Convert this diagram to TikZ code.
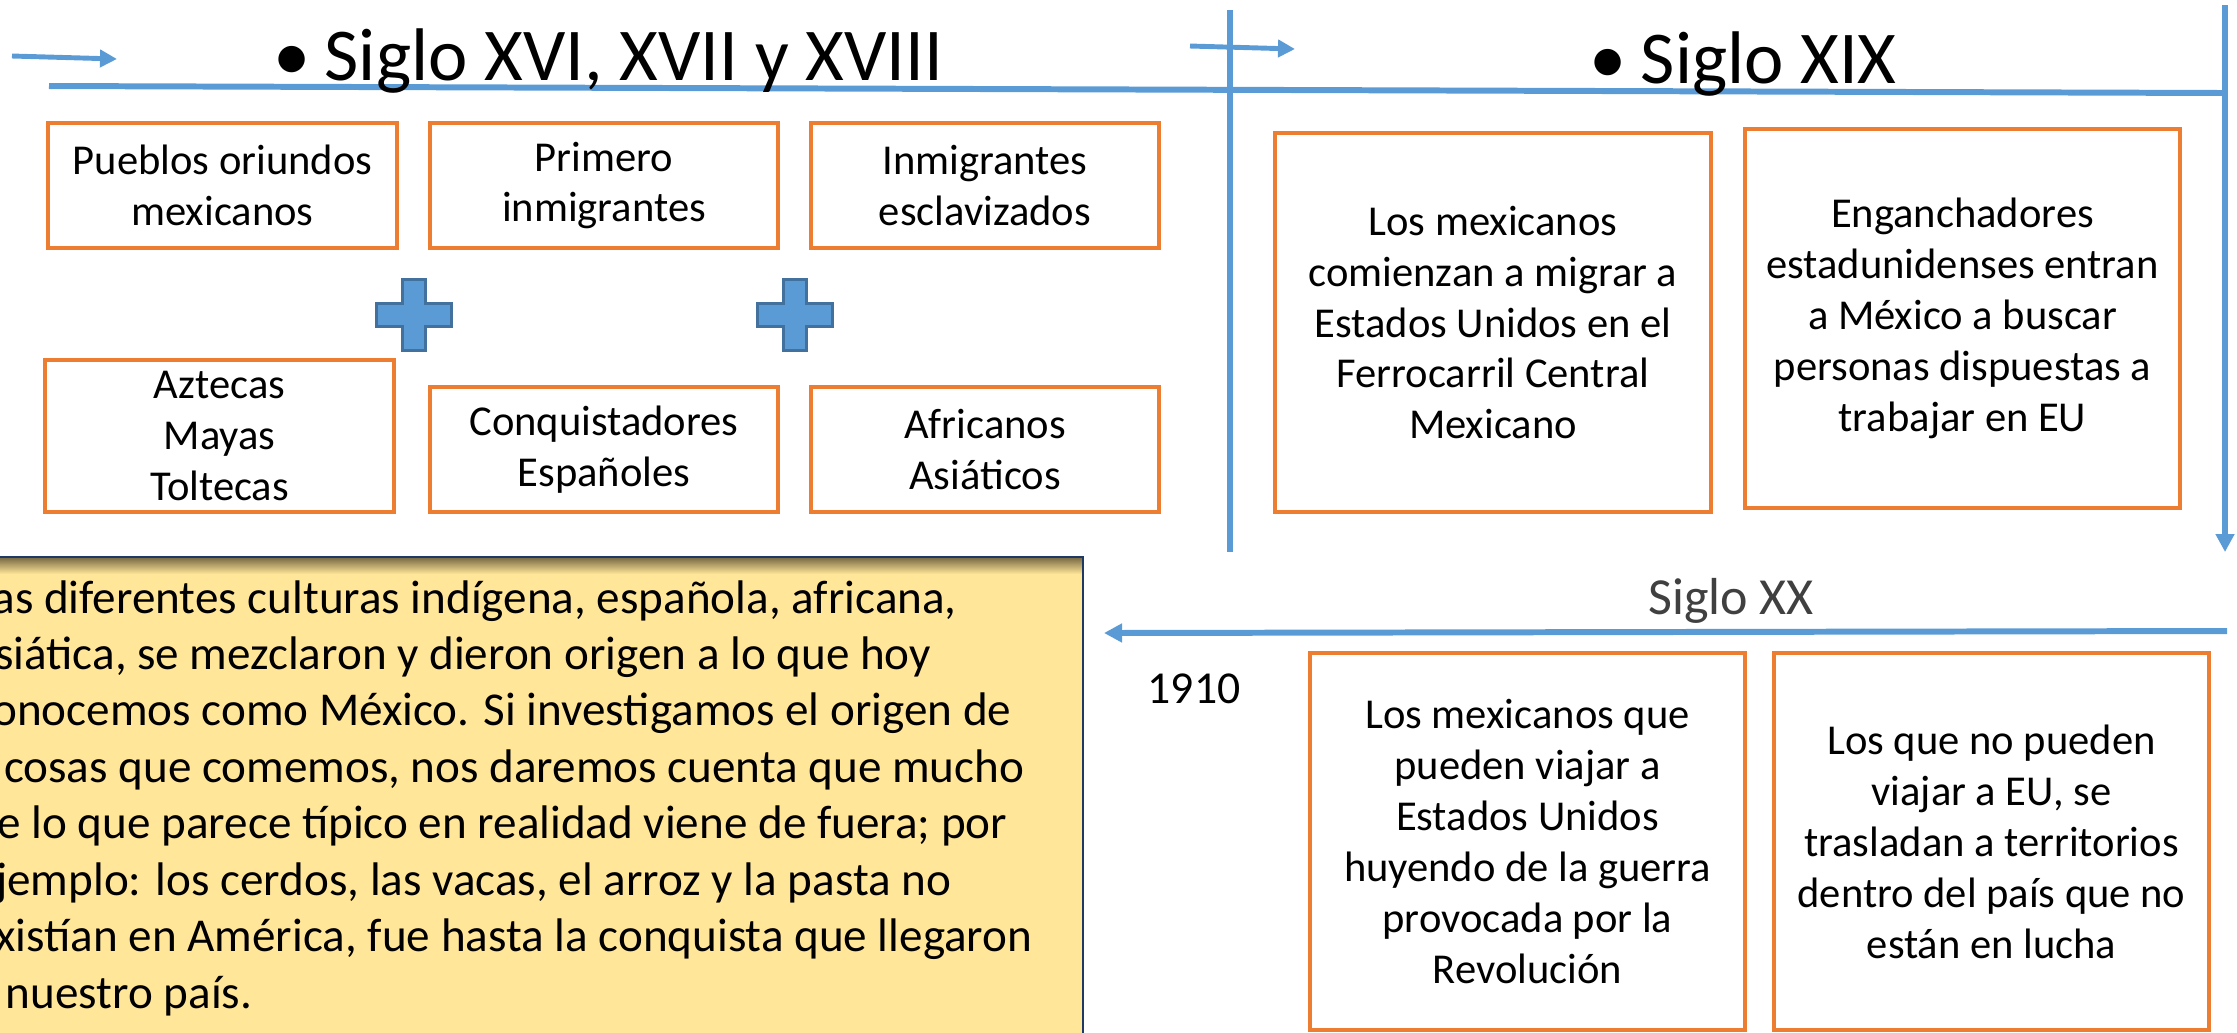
\documentclass[tikz,border=0pt]{standalone}
\usepackage{fontspec}
\setmainfont{Carlito}
\usepackage{xcolor}
\usetikzlibrary{arrows.meta}
\definecolor{azul}{HTML}{5B9BD5}
\definecolor{azulosc}{HTML}{41719C}
\definecolor{naranja}{HTML}{ED7D31}
\definecolor{amarillo}{HTML}{FFE699}
\definecolor{marino}{HTML}{1F3864}
\definecolor{sombra}{HTML}{7D6E46}
\definecolor{gris}{HTML}{404040}

\begin{document}
\begin{tikzpicture}
[
x=0.01cm, y=-0.01cm,
caja/.style={rectangle, draw=naranja, fill=white, line width=1pt, align=center, inner sep=0pt, font=\fontsize{12.1}{14.5}\selectfont},
titulo/.style={anchor=base west, inner sep=0pt, font=\fontsize{21.2}{26}\selectfont},
linea/.style={draw=azul, line width=1.7pt},
flecha/.style={linea, -{Triangle[length=0.18cm, width=0.18cm]}},
flechita/.style={draw=azul, line width=1.4pt, -{Triangle[length=0.17cm, width=0.17cm]}},
mas/.style={fill=azul, draw=azulosc, line width=0.7pt},
nota/.style={fill=amarillo, draw=marino, line width=0.8pt}
]
\useasboundingbox (0,0) rectangle (2237,1032);
\clip (0,0) rectangle (2237,1032);

%nota amarilla
\filldraw[nota] (-20,557) rectangle (1083,1050);
\shade[top color=sombra, bottom color=amarillo] (-20,558) rectangle (1082,574);
\draw[nota, fill=none] (-20,557) rectangle (1083,1050);
\node[anchor=base west, inner sep=0pt, font=\fontsize{13.4}{16.05}\selectfont] (texto) at (-28,613)
 {\parbox[t]{12cm}{\raggedright
 Las diferentes culturas indígena, española, africana,\\
 asiática, se mezclaron y dieron origen a lo que hoy\\
 conocemos como México. Si investigamos el origen de\\
 \hspace*{-0.31cm}las cosas que comemos, nos daremos cuenta que mucho\\
 de lo que parece típico en realidad viene de fuera; por\\
 ejemplo: los cerdos, las vacas, el arroz y la pasta no\\
 existían en América, fue hasta la conquista que llegaron\\
 a nuestro país.}};

%lineas de tiempo
\coordinate (a0) at (12,56);
\coordinate (a1) at (117,59);
\coordinate (l0) at (49,86);
\coordinate (l1) at (2225,93);
\coordinate (v0) at (1230,10);
\coordinate (v1) at (1230,552);
\coordinate (b0) at (1190,46);
\coordinate (b1) at (1295,49);
\coordinate (r0) at (2225,5);
\coordinate (r1) at (2225,552);
\coordinate (x0) at (2227,631);
\coordinate (x1) at (1104,633);
\draw[linea] (l0) -- (l1);
\draw[linea] (v0) -- (v1);
\draw[flecha] (r0) -- (r1);
\draw[flecha] (x0) -- (x1);
\draw[flechita] (a0) -- (a1);
\draw[flechita] (b0) -- (b1);

%siglo XVI, XVII y XVIII
\node[titulo] (s1) at (273,80) {\textbullet\hspace{0.14cm}Siglo XVI, XVII y XVIII};
\node[caja, minimum width=3.49cm, minimum height=1.25cm] (pueblos) at (222.5,185.5) {Pueblos oriundos\\mexicanos};
\node[caja, minimum width=3.48cm, minimum height=1.25cm] (primero) at (604,185.5) {Primero\\inmigrantes};
\node[caja, minimum width=3.48cm, minimum height=1.25cm] (inmig) at (985,185.5) {Inmigrantes\\esclavizados};
\foreach \cx in {414,795}
  \filldraw[mas] (\cx,315) ++(-11.5,-35.5) -- ++(23,0) -- ++(0,24) -- ++(26,0) -- ++(0,23) -- ++(-26,0)
    -- ++(0,24) -- ++(-23,0) -- ++(0,-24) -- ++(-26,0) -- ++(0,-23) -- ++(26,0) -- cycle;
\node[caja, minimum width=3.49cm, minimum height=1.52cm] (aztecas) at (219.5,436) {Aztecas\\Mayas\\Toltecas};
\node[caja, minimum width=3.48cm, minimum height=1.25cm] (conq) at (604,449.5) {Conquistadores\\Españoles};
\node[caja, minimum width=3.48cm, minimum height=1.25cm] (afr) at (985,449.5) {Africanos\\Asiáticos};

%siglo XIX
\node[titulo] (s2) at (1589,83) {\textbullet\hspace{0.14cm}Siglo XIX};
\node[caja, minimum width=4.36cm, minimum height=3.79cm] (migran) at (1493,322.5)
 {Los mexicanos\\comienzan a migrar a\\Estados Unidos en el\\Ferrocarril Central\\Mexicano};
\node[caja, minimum width=4.35cm, minimum height=3.79cm] (engan) at (1962.5,318.5)
 {Enganchadores\\estadunidenses entran\\a México a buscar\\personas dispuestas a\\trabajar en EU};

%siglo XX
\node[anchor=base, inner sep=0pt, text=gris, font=\fontsize{14.8}{18}\selectfont] (s3) at (1731,614) {Siglo XX};
\node[anchor=base west, inner sep=0pt, font=\fontsize{13}{16}\selectfont] (anio) at (1147,703) {1910};
\node[caja, minimum width=4.35cm, minimum height=3.77cm] (huyen) at (1527.5,841.5)
 {Los mexicanos que\\pueden viajar a\\Estados Unidos\\huyendo de la guerra\\provocada por la\\Revolución};
\node[caja, minimum width=4.35cm, minimum height=3.77cm] (lucha) at (1991.5,841.5)
 {Los que no pueden\\viajar a EU, se\\trasladan a territorios\\dentro del país que no\\están en lucha};

\end{tikzpicture}
\end{document}
